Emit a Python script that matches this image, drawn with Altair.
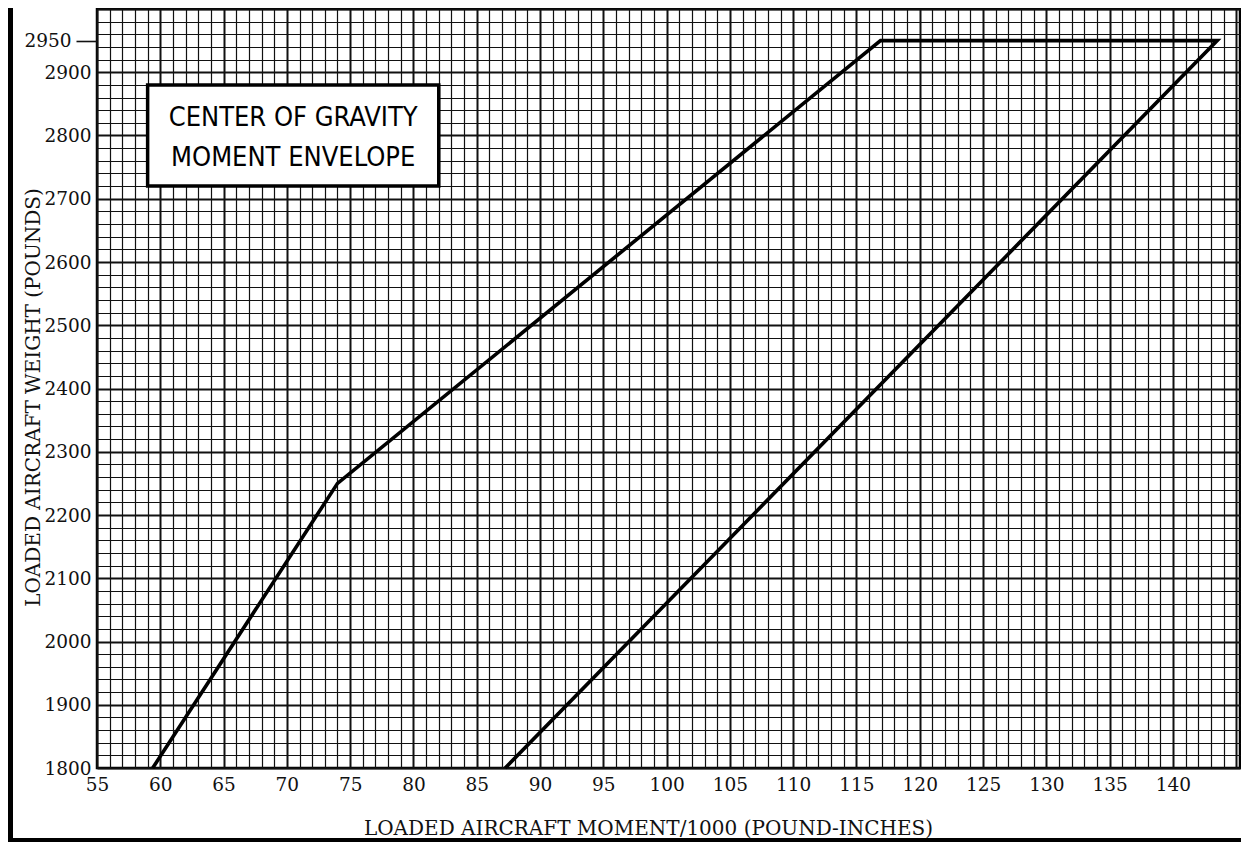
import altair as alt
import pandas as pd

# Envelope vertices (moment/1000, weight)
env_moment = [59.4, 74.0, 116.9, 143.5, 87.25]
env_weight = [1800, 2250, 2950, 2950, 1800]
env_order = [0, 1, 2, 3, 4]

# Title box (data coordinates) and its text
box_x = [59.0]
box_x2 = [82.0]
box_y = [2720]
box_y2 = [2880]
title_lines = ["CENTER OF GRAVITY", "MOMENT ENVELOPE"]
title_x = [70.5, 70.5]
title_y = [2828, 2765]

x_ticks = list(range(55, 146))
y_ticks = list(range(1800, 3001, 20)) + [2950]

env = pd.DataFrame({"m": env_moment, "w": env_weight, "o": env_order})
box = pd.DataFrame({"x": box_x, "x2": box_x2, "y": box_y, "y2": box_y2})
txt = pd.DataFrame({"t": title_lines, "x": title_x, "y": title_y})

SERIF = "DejaVu Serif"

xscale = alt.Scale(domain=[55, 145.3], nice=False, zero=False)
yscale = alt.Scale(domain=[1800, 3000], nice=False, zero=False)

xaxis = alt.Axis(
    values=x_ticks,
    tickCount=1000,
    format="d",
    labelExpr="(datum.value % 5 === 0 && datum.value <= 140) ? datum.label : ''",
    grid=True,
    gridColor="#111111",
    gridWidth={"condition": {"test": "datum.value % 5 === 0", "value": 2.0}, "value": 1.2},
    ticks=False,
    domain=False,
    labelFont=SERIF,
    labelFontSize=18.5,
    labelColor="#111111",
    labelPadding=7,
    labelFlush=False,
    labelOverlap=False,
    title="LOADED AIRCRAFT MOMENT/1000 (POUND-INCHES)",
    titleFont=SERIF,
    titleFontSize=20,
    titleFontWeight="normal",
    titleColor="#111111",
    titleX=551,
    titleY=60,
    titleBaseline="middle",
    titleAnchor="middle",
)

yaxis = alt.Axis(
    values=y_ticks,
    tickCount=1000,
    format="d",
    labelExpr="((datum.value % 100 === 0 && datum.value <= 2900) || datum.value === 2950) ? datum.label : ''",
    grid=True,
    gridColor="#111111",
    gridWidth={"condition": {"test": "datum.value % 100 === 0", "value": 2.0}, "value": 1.2},
    gridOpacity={"condition": {"test": "datum.value === 2950", "value": 0}, "value": 1},
    ticks=True,
    tickColor="#111111",
    tickWidth=1.6,
    tickSize={"condition": {"test": "datum.value === 2950", "value": 21}, "value": 0},
    labelPadding={"condition": {"test": "datum.value === 2950", "value": 5}, "value": 6},
    domain=False,
    labelFont=SERIF,
    labelFontSize=18.5,
    labelColor="#111111",
    labelFlush=False,
    labelOverlap=False,
    title="LOADED AIRCRAFT WEIGHT (POUNDS)",
    titleFont=SERIF,
    titleFontSize=20,
    titleFontWeight="normal",
    titleColor="#111111",
    titleAngle=270,
    titleX=-64,
    titleY=388,
    titleBaseline="middle",
    titleAlign="center",
)

line = alt.Chart(env).mark_line(color="#000000", strokeWidth=3.6, strokeJoin="miter").encode(
    x=alt.X("m:Q", scale=xscale, axis=xaxis),
    y=alt.Y("w:Q", scale=yscale, axis=yaxis),
    order="o:Q",
)

rect = alt.Chart(box).mark_rect(fill="white", stroke="#000000", strokeWidth=3.5).encode(
    x=alt.X("x:Q", scale=xscale, axis=xaxis), x2="x2:Q",
    y=alt.Y("y:Q", scale=yscale, axis=yaxis), y2="y2:Q",
)

text = alt.Chart(txt).mark_text(
    font="Liberation Sans Narrow, DejaVu Sans Condensed, Liberation Sans",
    fontSize=27,
    color="#000000",
    align="center",
    baseline="middle",
).encode(
    x=alt.X("x:Q", scale=xscale, axis=xaxis),
    y=alt.Y("y:Q", scale=yscale, axis=yaxis),
    text="t:N",
)

frame_left = alt.Chart(box).mark_rule(color="#000000", strokeWidth=5).encode(
    x=alt.value(-86.5), y=alt.value(-1), y2=alt.value(834)
)
frame_bottom = alt.Chart(box).mark_rule(color="#000000", strokeWidth=4).encode(
    x=alt.value(-89), x2=alt.value(1144), y=alt.value(831)
)

chart = (
    alt.layer(line, rect, text, frame_left, frame_bottom)
    .properties(
        width=1143,
        height=759,
        padding={"left": 89, "top": 1, "right": 1, "bottom": 74},
        autosize=alt.AutoSizeParams(type="none"),
        background="white",
    )
    .configure_view(stroke="#000000", strokeWidth=2.5)
)

chart.save("out.html", embed_options={"renderer": "svg", "actions": False})
